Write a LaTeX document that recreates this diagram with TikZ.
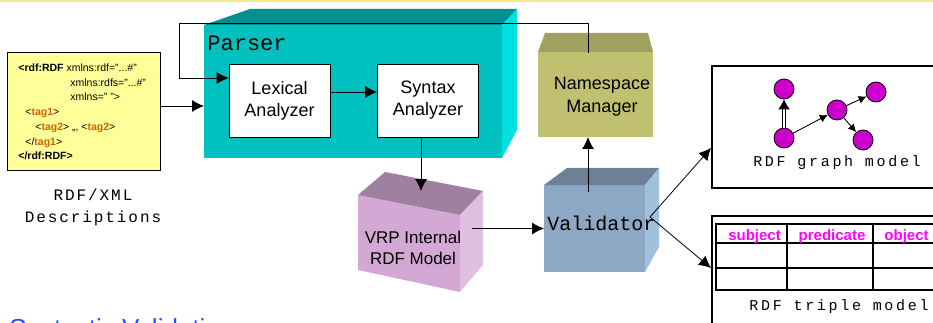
\documentclass[tikz,border=0pt]{standalone}
\usepackage{fontspec}
\setmainfont{Liberation Sans}
\newfontfamily\monofont{Liberation Mono}
\newfontfamily\widemono[LetterSpace=18]{Liberation Mono}
\newfontfamily\xmlmono[LetterSpace=12]{Liberation Mono}
\usetikzlibrary{arrows.meta}

\definecolor{topline}{HTML}{F0F080}
\definecolor{xmlfill}{HTML}{FFFF99}
\definecolor{tagorange}{HTML}{CC6600}
\definecolor{parserfront}{HTML}{00C0C0}
\definecolor{parsertop}{HTML}{009090}
\definecolor{parserside}{HTML}{00E0E0}
\definecolor{nsfront}{HTML}{C0C070}
\definecolor{nstop}{HTML}{A0A060}
\definecolor{valfront}{HTML}{8CA8C4}
\definecolor{valtop}{HTML}{6C8098}
\definecolor{valside}{HTML}{A0C0DC}
\definecolor{vrpfront}{HTML}{D4A8D4}
\definecolor{vrptop}{HTML}{A080A0}
\definecolor{vrpside}{HTML}{E0C0E0}
\definecolor{resmagenta}{HTML}{CC00CC}
\definecolor{headmagenta}{HTML}{FF00FF}
\definecolor{titleblue}{HTML}{1F4FFF}

\newcommand{\xmltag}[1]{\textcolor{tagorange}{\textbf{#1}}}

\begin{document}
\begin{tikzpicture}[x=1pt,y=-1pt,line width=0.8pt,>={Latex[length=12pt,width=12pt]},
        analyzer/.style={draw,fill=white,minimum width=101pt,minimum height=73pt,inner sep=0pt,
                align=center,font=\fontsize{18}{22}\selectfont},
        front/.style={inner sep=0pt,outer sep=0pt},
        modelbox/.style={draw,line width=2pt,fill=white,inner sep=0pt},
        res/.style={circle,draw,fill=resmagenta,minimum size=20pt,inner sep=0pt},
        gedge/.style={-{Latex[length=8pt,width=8pt]},line width=0.9pt},
        header/.style={anchor=base,text=headmagenta,font=\bfseries\fontsize{15}{15}\selectfont},
        monolabel/.style={font=\widemono\fontsize{15}{22}\selectfont}]

        % the slide
        \useasboundingbox (0,0) rectangle (933,323);
        \fill[topline] (0,0) rectangle (933,2.5);

        % draw the xml description
        \node[draw,fill=xmlfill,minimum width=153pt,minimum height=118pt,inner sep=0pt] (xml) at (83.5,111) {};
        \node[anchor=north west,inner sep=0pt,align=left,font=\fontsize{10.5}{14.7}\selectfont] (xmltext) at (18,63.5)
                {\textbf{<rdf:RDF} xmlns:rdf="...\#"\\
                 \hspace*{52pt}xmlns:rdfs="...\#"\\
                 \hspace*{52pt}xmlns=" ">\\
                 \hspace*{7pt}<\xmltag{tag1}>\\
                 \hspace*{17pt}<\xmltag{tag2}> ,,, <\xmltag{tag2}>\\
                 \hspace*{7pt}</\xmltag{tag1}>\\
                 \textbf{</rdf:RDF>}};
        \node[align=center,font=\xmlmono\fontsize{16}{22}\selectfont] (xmlname) at (93,207) {RDF/XML\\Descriptions};

        % draw the parser block
        \node[front,fill=parserfront,minimum width=298pt,minimum height=133pt] (parser) at (353,91.5) {};
        \fill[parsertop] (parser.north west) -- (250,9) -- (517,9) -- (parser.north east) -- cycle;
        \fill[parserside] (parser.north east) -- (517,9) -- (517,130) -- (parser.south east) -- cycle;
        \node[anchor=base west,inner sep=0pt,font=\monofont\fontsize{22}{22}\selectfont] (parsername) at (207,51) {Parser};
        \node[analyzer] (lexical) at (279.5,100.5) {Lexical\\Analyzer};
        \node[analyzer] (syntax) at (428,100.5) {Syntax\\Analyzer};

        % draw the namespace manager
        \node[front,fill=nsfront,minimum width=115pt,minimum height=85pt] (ns) at (595.5,94.5) {};
        \fill[nstop] (ns.north west) -- (545,33) -- (648,33) -- (ns.north east) -- cycle;
        \node[align=center,font=\fontsize{18}{23}\selectfont] (nsname) at (602,97) {Namespace\\Manager};

        % draw the internal model
        \fill[vrpfront] (358,195) -- (460,215) -- (460,292) -- (358,270) -- cycle;
        \fill[vrptop] (358,195) -- (385,172) -- (483,191) -- (460,215) -- cycle;
        \fill[vrpside] (460,215) -- (483,191) -- (483,265) -- (460,292) -- cycle;
        \node[align=center,minimum width=118pt,inner sep=0pt,font=\fontsize{17}{21}\selectfont] (vrp) at (413,248) {VRP Internal\\RDF Model};
        \coordinate (vrpin) at (421,191);

        % draw the validator
        \node[front,fill=valfront,minimum width=101pt,minimum height=87pt] (val) at (594.5,228.5) {};
        \fill[valtop] (val.north west) -- (567,168) -- (659,168) -- (val.north east) -- cycle;
        \fill[valside] (val.north east) -- (659,168) -- (659,247) -- (val.south east) -- cycle;
        \node[anchor=base west,inner sep=0pt,font=\monofont\fontsize{20}{20}\selectfont] (valname) at (547,230) {Validator};
        \coordinate (valout) at (650,217);

        % draw the graph model
        \node[modelbox,minimum width=240pt,minimum height=122pt] (graph) at (832,127) {};
        \foreach \n/\x/\y in {a/784/89, b/784/138, c/837/110, d/876/92, e/863/140}
                \node[res] (\n) at (\x,\y) {};
        \draw[-{Latex[length=10pt,width=12pt]},double,double distance=2pt,line width=1pt] (b) -- (a);
        \draw[gedge] (b) -- (c);
        \draw[gedge] (c) -- (d);
        \draw[gedge] (c) -- (e);
        \node[monolabel,anchor=base] (graphname) at (837,167) {RDF graph model};

        % draw the triple model
        \node[modelbox,minimum width=240pt,minimum height=130pt] (triple) at (832,281) {};
        \draw[line width=1.6pt] (716,224) rectangle (945,290);
        \foreach \y in {243,268}
                \draw[line width=1.6pt] (716,\y) -- (945,\y);
        \foreach \x in {787,873}
                \draw[line width=1.6pt] (\x,224) -- (\x,290);
        \foreach \x/\name in {754.5/subject, 832/predicate, 906.5/object}
                \node[header] (h\name) at (\x,240.5) {\name};
        \node[monolabel,anchor=base] (triplename) at (839,310) {RDF triple model};

        % connectors
        \draw[->] ([yshift=5pt]xml.east) -- ([yshift=5pt]xml.east -| parser.west);
        \draw[->] ([yshift=8.5pt]lexical.east) -- ([yshift=8.5pt]syntax.west);
        \draw[->] ([xshift=-7pt]syntax.south) -- (vrpin);
        \draw[->] (vrp.east |- val.west) -- (val.west);
        \draw[->] ([xshift=-6.5pt,yshift=-7pt]val.north) -- ([xshift=-6.5pt]val.north |- ns.south);
        \draw[->] ([xshift=-7.5pt,yshift=-1pt]ns.north) |- (179,23) |- ([yshift=22.5pt]lexical.west);
        \draw[->] (valout) -- ([yshift=-21pt]graph.west);
        \draw[->] (valout) -- ([yshift=13pt]triple.west);

        % the caption below
        \node[anchor=base west,inner sep=0pt,text=titleblue,font=\fontsize{26}{30}\selectfont] (caption) at (9,337) {Syntactic Validation};
\end{tikzpicture}
\end{document}
